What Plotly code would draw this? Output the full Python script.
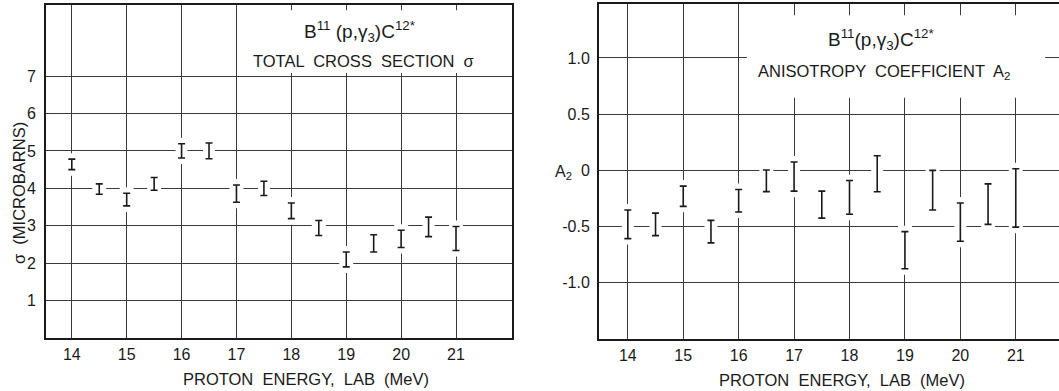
import plotly.graph_objects as go

# ---- data ----
energy = [14, 14.5, 15, 15.5, 16, 16.5, 17, 17.5, 18, 18.5, 19, 19.5, 20, 20.5, 21]
sigma = [4.64, 3.98, 3.70, 4.12, 5.00, 5.00, 3.86, 4.00, 3.40, 2.94, 2.10, 2.53, 2.65, 2.97, 2.66]
sigma_err = [0.14, 0.14, 0.17, 0.17, 0.19, 0.21, 0.23, 0.19, 0.21, 0.20, 0.20, 0.23, 0.23, 0.26, 0.32]
a2 = [-0.48, -0.48, -0.23, -0.545, -0.27, -0.093, -0.055, -0.305, -0.24, -0.03, -0.71, -0.176, -0.46, -0.30, -0.245]
a2_err = [0.127, 0.10, 0.09, 0.10, 0.10, 0.096, 0.13, 0.12, 0.15, 0.16, 0.165, 0.176, 0.17, 0.18, 0.26]

x_ticks = [14, 15, 16, 17, 18, 19, 20, 21]
sigma_ticks = [1, 2, 3, 4, 5, 6, 7]
a2_ticks = [1.0, 0.5, 0, -0.5, -1.0]
a2_tick_text = ["1.0", "0.5", "0", "-0.5", "-1.0"]

W, H = 1059, 391
FONT = "Liberation Sans"
INK = "#1a1a1a"
GRID = "#3a3a3a"

fig = go.Figure()

def add_series(xs, ys, errs, xa, ya):
    # white halo that interrupts the grid around each bar
    fig.add_trace(go.Scatter(
        x=xs, y=ys, mode="markers", xaxis=xa, yaxis=ya,
        marker=dict(size=1, color="rgba(0,0,0,0)"),
        error_y=dict(type="data", array=errs, color="white", thickness=12, width=7),
        showlegend=False, hoverinfo="skip"))
    fig.add_trace(go.Scatter(
        x=xs, y=ys, mode="markers", xaxis=xa, yaxis=ya,
        marker=dict(size=1, color="rgba(0,0,0,0)"),
        error_y=dict(type="data", array=errs, color=INK, thickness=1.6, width=3.5),
        showlegend=False))

add_series(energy, sigma, sigma_err, "x", "y")
add_series(energy, a2, a2_err, "x2", "y2")

def px_x(p):
    return p / W

def px_y(p):
    return (H - p) / H

axis_common = dict(
    showgrid=True, gridcolor=GRID, gridwidth=1.1, zeroline=False,
    showline=True, linecolor=INK, linewidth=2, ticks="",
    tickfont=dict(family=FONT, size=16, color=INK),
)

fig.update_layout(
    width=W, height=H,
    margin=dict(l=0, r=0, t=0, b=0),
    paper_bgcolor="white", plot_bgcolor="white",
    showlegend=False,
    xaxis=dict(axis_common, domain=[px_x(46), px_x(512)], range=[13.53, 22.02],
               tickvals=x_ticks, mirror=True, anchor="y", ticklabelstandoff=1),
    yaxis=dict(axis_common, domain=[px_y(338), px_y(5)], range=[0, 8.9],
               tickvals=sigma_ticks, mirror=True, anchor="x", ticklabelstandoff=5),
    xaxis2=dict(axis_common, domain=[px_x(599), 1.0], range=[13.48, 21.78],
                tickvals=x_ticks, mirror=True, anchor="y2", ticklabelstandoff=1),
    yaxis2=dict(axis_common, domain=[px_y(339), px_y(4)], range=[-1.5, 1.48],
                tickvals=a2_ticks, ticktext=a2_tick_text, mirror=False, anchor="x2",
                ticklabelstandoff=4),
)

# white boxes behind the panel titles
fig.add_shape(type="rect", xref="x", yref="y", x0=17.15, x1=21.93, y0=7.08, y1=8.76,
              fillcolor="white", line=dict(width=0), layer="above")
fig.add_shape(type="rect", xref="x2", yref="y2", x0=16.15, x1=21.53, y0=0.645, y1=1.38,
              fillcolor="white", line=dict(width=0), layer="above")

def font(size):
    return dict(family=FONT, size=size, color=INK)

anns = [
    # left panel titles
    dict(x=px_x(359), y=px_y(32), text="B<sup>11</sup> (p,γ<sub>3</sub>)C<sup>12*</sup>", font=font(19)),
    dict(x=px_x(363), y=px_y(61), text="TOTAL  CROSS  SECTION  σ", font=font(16.5)),
    # right panel titles
    dict(x=px_x(881), y=px_y(39), text="B<sup>11</sup>(p,γ<sub>3</sub>)C<sup>12*</sup>", font=font(19)),
    dict(x=px_x(884), y=px_y(72), text="ANISOTROPY  COEFFICIENT  A<sub>2</sub>", font=font(16.5)),
    # x axis titles
    dict(x=px_x(306), y=px_y(379), text="PROTON  ENERGY,  LAB  (MeV)", font=font(16.5)),
    dict(x=px_x(842), y=px_y(380), text="PROTON  ENERGY,  LAB  (MeV)", font=font(16.5)),
    # y axis titles
    dict(x=px_x(19), y=px_y(193), text="σ  (MICROBARNS)", textangle=-90, font=font(16.5)),
    dict(x=px_x(563), y=px_y(172), text="A<sub>2</sub>", font=font(16)),
]
for a in anns:
    fig.add_annotation(dict(xref="paper", yref="paper", showarrow=False,
                            xanchor="center", yanchor="middle"), **a)

fig.write_html("out.html")
